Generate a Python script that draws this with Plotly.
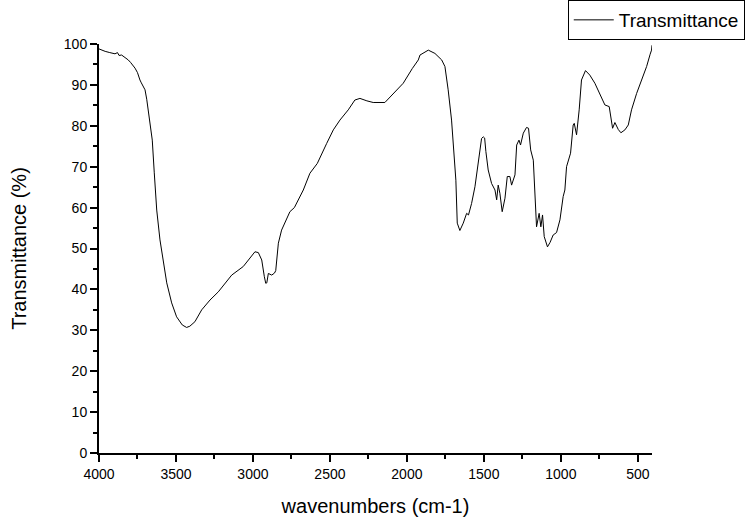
import plotly.graph_objects as go

wavenumber = [4000, 3994, 3960, 3930, 3896, 3880, 3870, 3853, 3840, 3825, 3810, 3795, 3780, 3766,
              3750, 3740, 3734, 3725, 3715, 3701, 3690, 3684, 3675, 3669, 3662, 3654, 3641, 3625,
              3604, 3582, 3560, 3528, 3496, 3459, 3431, 3410, 3377, 3333, 3279, 3225, 3138, 3063,
              3019, 2987, 2965, 2950, 2943, 2926, 2917, 2910, 2900, 2878, 2860, 2852, 2840, 2835,
              2814, 2781, 2760, 2731, 2706, 2673, 2630, 2582, 2521, 2478, 2435, 2381, 2338, 2305,
              2260, 2219, 2143, 2089, 2045, 2024, 1965, 1926, 1915, 1861, 1818, 1774, 1753, 1732,
              1710, 1695, 1682, 1673, 1656, 1634, 1612, 1600, 1580, 1558, 1537, 1515, 1504, 1495,
              1487, 1472, 1450, 1428, 1417, 1407, 1396, 1381, 1363, 1348, 1331, 1320, 1298, 1287,
              1272, 1262, 1244, 1223, 1210, 1196, 1179, 1169, 1158, 1141, 1130, 1119, 1108, 1087,
              1070, 1050, 1028, 1006, 985, 974, 963, 937, 920, 913, 898, 881, 866, 840, 812, 779,
              747, 714, 686, 675, 664, 649, 627, 610, 584, 562, 541, 508, 476, 443, 420, 411, 408]

transmittance = [98.8, 98.7, 98.2, 97.9, 97.6, 97.9, 97.2, 97.3, 97.0, 96.5, 96.1, 95.5, 94.8, 94.1,
                 93.0, 91.5, 91.2, 90.5, 89.8, 88.8, 86.5, 84.7, 82.5, 80.7, 78.5, 76.5, 68.5, 59.4,
                 52.1, 46.4, 41.6, 36.7, 33.3, 31.3, 30.7, 31.0, 32.1, 35.0, 37.4, 39.4, 43.5, 45.6,
                 47.6, 49.2, 49.0, 48.0, 47.2, 43.1, 41.5, 41.6, 43.9, 43.5, 44.0, 44.6, 49.0, 51.3,
                 54.5, 57.0, 59.0, 60.0, 61.9, 64.3, 68.4, 70.8, 75.7, 79.0, 81.4, 83.9, 86.3, 86.7,
                 86.1, 85.7, 85.7, 87.9, 89.6, 90.4, 94.0, 96.1, 97.3, 98.5, 97.7, 96.1, 94.5, 88.8,
                 81.4, 74.1, 66.7, 56.2, 54.4, 56.2, 58.6, 58.2, 61.0, 65.1, 71.6, 76.9, 77.3, 77.0,
                 73.7, 69.2, 65.9, 64.3, 61.9, 65.5, 63.5, 59.0, 62.3, 67.6, 67.6, 65.5, 68.0, 75.3,
                 76.5, 75.3, 78.2, 79.6, 79.4, 74.1, 71.6, 65.1, 55.3, 58.6, 55.3, 58.2, 52.9, 50.4,
                 51.5, 53.3, 53.9, 57.0, 62.7, 64.3, 70.0, 73.3, 80.2, 80.6, 77.8, 83.9, 91.2, 93.5,
                 92.4, 90.4, 87.9, 85.1, 84.7, 81.4, 79.4, 80.8, 79.1, 78.3, 79.0, 80.2, 83.9, 87.9,
                 91.2, 94.5, 97.5, 98.5, 99.7]

x_ticks = [4000, 3500, 3000, 2500, 2000, 1500, 1000, 500]
y_ticks = [0, 10, 20, 30, 40, 50, 60, 70, 80, 90, 100]

font_family = "Liberation Sans, Arial, sans-serif"

fig = go.Figure()
fig.add_trace(go.Scatter(
    x=wavenumber, y=transmittance, mode="lines", name="Transmittance",
    line=dict(color="black", width=1),
))

fig.update_layout(
    width=750, height=518,
    margin=dict(l=99, r=98, t=44, b=65, autoexpand=False),
    paper_bgcolor="white", plot_bgcolor="white",
    font=dict(family=font_family, color="black", size=14),
    showlegend=True,
    legend=dict(
        xref="container", yref="container",
        x=0.993, xanchor="right", y=1.0, yanchor="top",
        bgcolor="white", bordercolor="black", borderwidth=1,
        font=dict(size=19, family=font_family, color="black"),
        tracegroupgap=0, itemwidth=40,
    ),
    xaxis=dict(
        range=[4000, 408], showline=True, linecolor="black", linewidth=2,
        showgrid=False, zeroline=False, automargin=False,
        tickmode="array", tickvals=x_ticks, ticktext=[str(v) for v in x_ticks],
        ticks="outside", ticklen=7, tickwidth=2, tickcolor="black",
        tickfont=dict(size=14),
        minor=dict(dtick=250, tick0=0, ticks="outside", ticklen=4, tickwidth=2, tickcolor="black"),
        title=dict(text="wavenumbers (cm-1)", font=dict(size=20), standoff=18),
    ),
    yaxis=dict(
        range=[0, 100], showline=True, linecolor="black", linewidth=2,
        showgrid=False, zeroline=False, automargin=False,
        tickmode="array", tickvals=y_ticks, ticktext=[str(v) for v in y_ticks],
        ticks="outside", ticklen=7, tickwidth=2, tickcolor="black",
        tickfont=dict(size=14),
        minor=dict(dtick=5, tick0=0, ticks="outside", ticklen=4, tickwidth=2, tickcolor="black"),
        title=dict(text="Transmittance (%)", font=dict(size=20), standoff=32),
    ),
)

fig.write_html("out.html", config={"displayModeBar": False},
               post_script="document.body.style.margin='0';")
